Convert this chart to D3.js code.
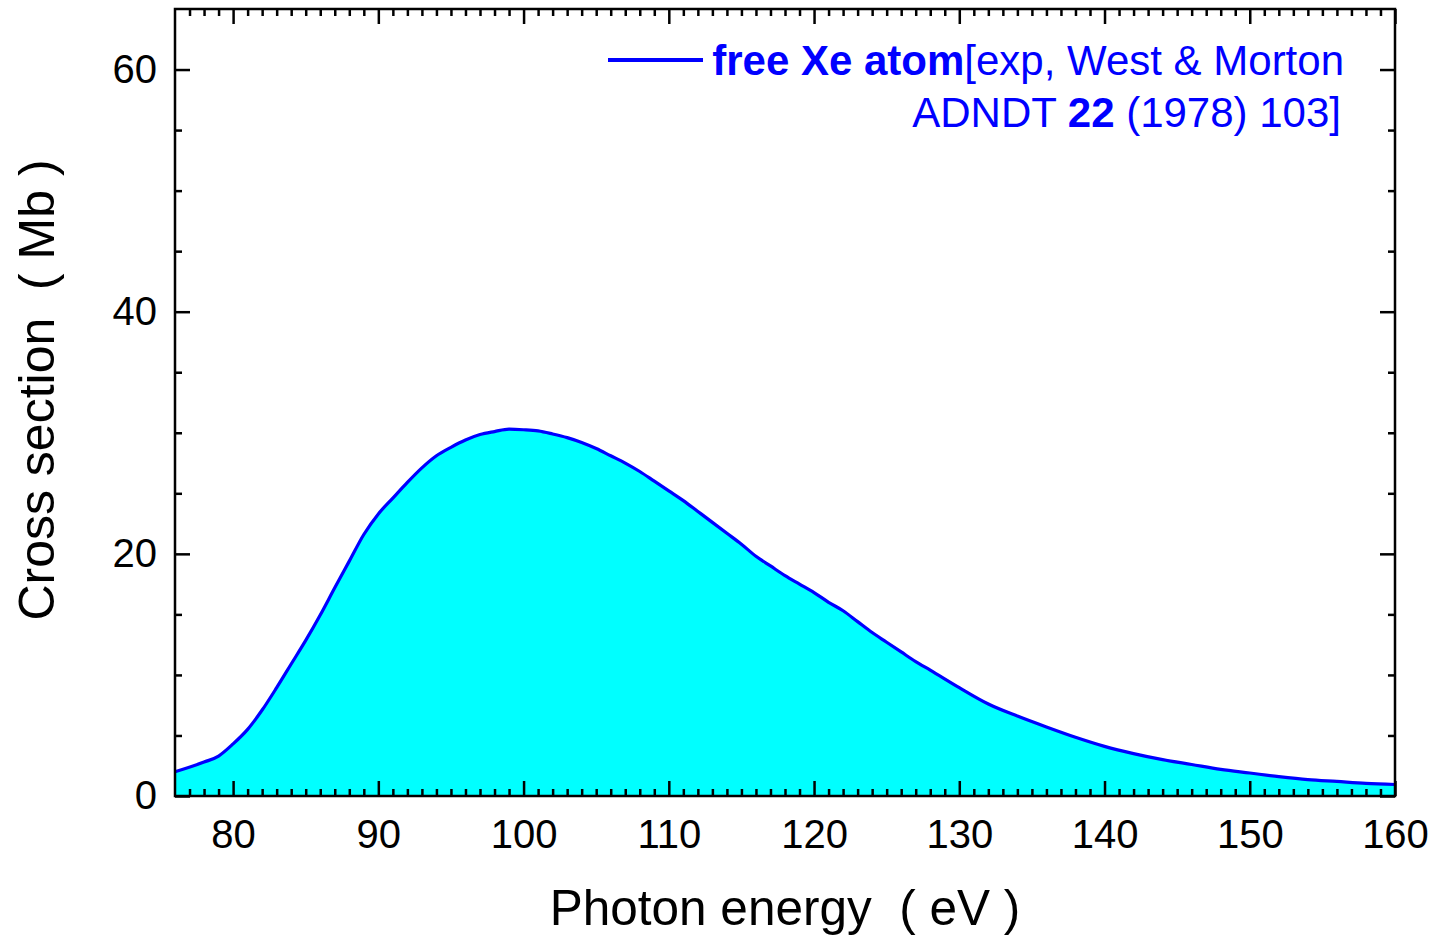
<!DOCTYPE html>
<html><head><meta charset="utf-8">
<script src="https://cdn.jsdelivr.net/npm/d3@7"></script>
<style>
body{margin:0;background:#fff;}
text{font-family:"Liberation Sans",Arial,sans-serif;}
</style></head>
<body><svg id="c" width="1437" height="935"></svg>
<script>
const energy = [76,78,79,80,81,82,83,84,85,86,87,88,89,90,91,92,93,94,95,96,97,98,99,100,101,102,103,104,105,106,107,108,109,110,111,112,113,114,115,116,117,118,119,120,121,122,123,124,125,126,127,128,130,132,134,136,138,140,142,144,146,148,150,152,154,156,158,160];
const crossSection = [2.0,2.8,3.3,4.3,5.5,7.1,8.95,10.9,12.85,14.95,17.2,19.4,21.6,23.3,24.6,25.9,27.1,28.1,28.8,29.4,29.85,30.1,30.3,30.25,30.15,29.9,29.6,29.2,28.7,28.1,27.5,26.8,26.0,25.2,24.4,23.5,22.6,21.7,20.8,19.8,19.0,18.2,17.5,16.8,16.0,15.3,14.4,13.5,12.7,11.9,11.1,10.4,8.95,7.6,6.6,5.7,4.85,4.1,3.5,3.0,2.6,2.2,1.9,1.6,1.35,1.2,1.05,0.95];
const xTicks = [80,90,100,110,120,130,140,150,160];
const yTicks = [0,20,40,60];

const svg = d3.select("#c");
const L=175, R=1395, T=9, B=796;
const x = d3.scaleLinear().domain([76,160]).range([L,R]);
const y = d3.scaleLinear().domain([0,65]).range([B,T]);
const data = energy.map((e,i)=>({e, v:crossSection[i]}));

svg.append("path").datum(data)
  .attr("fill","#00ffff")
  .attr("d", d3.area().x(d=>x(d.e)).y0(y(0)).y1(d=>y(d.v)).curve(d3.curveMonotoneX));
svg.append("path").datum(data)
  .attr("fill","none").attr("stroke","#0000ff").attr("stroke-width",3.2)
  .attr("d", d3.line().x(d=>x(d.e)).y(d=>y(d.v)).curve(d3.curveMonotoneX));

const minorX = d3.range(77,160,1).filter(v=>v%10!==0);
const minorY = d3.range(5,65,5).filter(v=>v%20!==0);
function styleAxis(g){ g.select(".domain").remove(); g.selectAll("line").attr("stroke","#000").attr("stroke-width",2.5); }

svg.append("g").attr("transform",`translate(0,${B})`)
  .call(d3.axisBottom(x).tickValues(xTicks).tickSize(-15).tickPadding(24).tickFormat(d3.format("d")))
  .call(styleAxis)
  .call(g=>g.selectAll("text").attr("font-size",40).attr("fill","#000").attr("font-family","Liberation Sans, Arial"));
svg.append("g").attr("transform",`translate(0,${B})`)
  .call(d3.axisBottom(x).tickValues(minorX).tickSize(-7).tickFormat(""))
  .call(styleAxis);
svg.append("g").attr("transform",`translate(0,${T})`)
  .call(d3.axisTop(x).tickValues(xTicks).tickSize(-15).tickFormat(""))
  .call(styleAxis);
svg.append("g").attr("transform",`translate(0,${T})`)
  .call(d3.axisTop(x).tickValues(minorX).tickSize(-7).tickFormat(""))
  .call(styleAxis);
svg.append("g").attr("transform",`translate(${L},0)`)
  .call(d3.axisLeft(y).tickValues(yTicks).tickSize(-15).tickPadding(18).tickFormat(d3.format("d")))
  .call(styleAxis)
  .call(g=>g.selectAll("text").attr("font-size",40).attr("fill","#000").attr("font-family","Liberation Sans, Arial"));
svg.append("g").attr("transform",`translate(${L},0)`)
  .call(d3.axisLeft(y).tickValues(minorY).tickSize(-7).tickFormat(""))
  .call(styleAxis);
svg.append("g").attr("transform",`translate(${R},0)`)
  .call(d3.axisRight(y).tickValues(yTicks).tickSize(-15).tickFormat(""))
  .call(styleAxis);
svg.append("g").attr("transform",`translate(${R},0)`)
  .call(d3.axisRight(y).tickValues(minorY).tickSize(-7).tickFormat(""))
  .call(styleAxis);

svg.append("rect").attr("x",L).attr("y",T).attr("width",R-L).attr("height",B-T)
  .attr("fill","none").attr("stroke","#000").attr("stroke-width",2.5);

svg.append("text").attr("x",785).attr("y",925).attr("text-anchor","middle")
  .attr("font-size",49.5).attr("fill","#000").style("white-space","pre")
  .text("Photon energy  ( eV )");
svg.append("text").attr("transform","translate(54,390) rotate(-90)").attr("text-anchor","middle")
  .attr("font-size",50).attr("fill","#000").style("white-space","pre")
  .text("Cross section  ( Mb )");

// legend
svg.append("line").attr("x1",608).attr("x2",703).attr("y1",60).attr("y2",60)
  .attr("stroke","#0000ff").attr("stroke-width",4);
const t1 = svg.append("text").attr("x",1344).attr("y",75).attr("text-anchor","end")
  .attr("font-size",42).attr("fill","#0000ff");
t1.append("tspan").attr("font-weight","bold").text("free Xe atom");
t1.append("tspan").text("[exp, West & Morton");
const t2 = svg.append("text").attr("x",1341).attr("y",127).attr("text-anchor","end")
  .attr("font-size",42).attr("fill","#0000ff").style("white-space","pre");
t2.append("tspan").text("ADNDT ");
t2.append("tspan").attr("font-weight","bold").text("22");
t2.append("tspan").text(" (1978) 103]");
</script></body></html>
